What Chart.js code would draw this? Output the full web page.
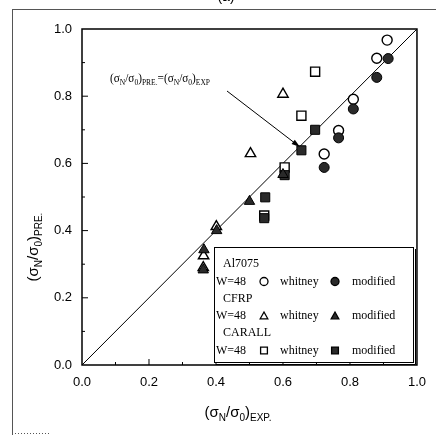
<!DOCTYPE html>
<html>
<head>
<meta charset="utf-8">
<script src="https://cdn.jsdelivr.net/npm/chart.js@4.4.1/dist/chart.umd.min.js"></script>
<style>
  html, body { margin: 0; padding: 0; background: #fff; }
  #wrap { width: 436px; height: 435px; position: relative; }
</style>
</head>
<body>
<div id="wrap"><canvas id="chart"></canvas></div>
<script>
// values: (sigma_N/sigma_0) EXP. vs PRE.
const alWhitneyX = [0.911, 0.880, 0.810, 0.766, 0.723];
const alWhitneyY = [0.967, 0.913, 0.791, 0.698, 0.628];
const alModifiedX = [0.914, 0.880, 0.810, 0.766, 0.723];
const alModifiedY = [0.912, 0.856, 0.762, 0.676, 0.588];

const cfrpWhitneyX = [0.600, 0.503, 0.401, 0.363, 0.362];
const cfrpWhitneyY = [0.806, 0.629, 0.412, 0.325, 0.290];
const cfrpModifiedX = [0.600, 0.500, 0.402, 0.364, 0.362];
const cfrpModifiedY = [0.567, 0.487, 0.400, 0.343, 0.283];

const carallWhitneyX = [0.696, 0.655, 0.605, 0.544];
const carallWhitneyY = [0.873, 0.742, 0.588, 0.445];
const carallModifiedX = [0.696, 0.655, 0.605, 0.547, 0.544];
const carallModifiedY = [0.700, 0.639, 0.565, 0.499, 0.437];

const lineX = [0, 1];
const lineY = [0, 1];

const tickLabels = ["0.0", "0.2", "0.4", "0.6", "0.8", "1.0"];

const legendRows = [
  { group: "Al7075", style: "circle" },
  { group: "CFRP", style: "triangle" },
  { group: "CARALL", style: "rect" },
];

function pts(xs, ys) {
  return xs.map((x, i) => ({ x: x, y: ys[i] }));
}

const FILL = "#2a2a2a";
const SANS = "'Liberation Sans', Arial, sans-serif";
const SERIF = "'Liberation Serif', 'Times New Roman', serif";

function openSet(xs, ys, style, r) {
  return {
    data: pts(xs, ys), pointStyle: style, pointRadius: r,
    backgroundColor: "#fff", borderColor: "#000", pointBorderWidth: 1.4,
    showLine: false, order: 2,
  };
}
function filledSet(xs, ys, style, r) {
  return {
    data: pts(xs, ys), pointStyle: style, pointRadius: r,
    backgroundColor: FILL, borderColor: "#000", pointBorderWidth: 1,
    showLine: false, order: 1,
  };
}

// text with subscripts, parts = [[text, isSub], ...]
function richWidth(ctx, parts, size, sub, family) {
  let w = 0;
  parts.forEach(p => {
    ctx.font = (p[1] ? sub : size) + "px " + family;
    w += ctx.measureText(p[0]).width;
  });
  return w;
}
function drawRich(ctx, parts, x, y, size, sub, family, drop) {
  let cx = x;
  parts.forEach(p => {
    ctx.font = (p[1] ? sub : size) + "px " + family;
    ctx.fillText(p[0], cx, p[1] ? y + drop : y);
    cx += ctx.measureText(p[0]).width;
  });
}

function marker(ctx, style, x, y, r, filled) {
  ctx.save();
  ctx.beginPath();
  if (style === "circle") {
    ctx.arc(x, y, r, 0, Math.PI * 2);
  } else if (style === "triangle") {
    ctx.moveTo(x, y - r);
    ctx.lineTo(x + r * 0.95, y + r * 0.7);
    ctx.lineTo(x - r * 0.95, y + r * 0.7);
    ctx.closePath();
  } else {
    ctx.rect(x - r * 0.85, y - r * 0.85, r * 1.7, r * 1.7);
  }
  ctx.fillStyle = filled ? FILL : "#fff";
  ctx.fill();
  ctx.lineWidth = 1.3;
  ctx.strokeStyle = "#000";
  ctx.stroke();
  ctx.restore();
}

const decorations = {
  id: "decorations",
  afterDraw(chart) {
    const ctx = chart.ctx;
    const a = chart.chartArea;
    const xs = chart.scales.x, ys = chart.scales.y;
    ctx.save();

    // scan edges
    ctx.strokeStyle = "#555";
    ctx.lineWidth = 1;
    ctx.beginPath();
    ctx.moveTo(12, 9.5); ctx.lineTo(436, 9.5);
    ctx.moveTo(12.5, 9); ctx.lineTo(12.5, 435);
    ctx.stroke();
    ctx.setLineDash([1, 2]);
    ctx.beginPath();
    ctx.moveTo(12, 433.5); ctx.lineTo(50, 433.5);
    ctx.stroke();
    ctx.setLineDash([]);
    ctx.fillStyle = "#000";
    ctx.font = "14px " + SANS;
    ctx.textAlign = "center";
    ctx.textBaseline = "alphabetic";
    ctx.fillText("(a)", 226, 1);

    // frame
    ctx.strokeStyle = "#000";
    ctx.lineWidth = 1.5;
    ctx.strokeRect(a.left, a.top, a.right - a.left, a.bottom - a.top);

    // inward ticks
    ctx.lineWidth = 1;
    ctx.beginPath();
    for (let i = 1; i < 10; i++) {
      const v = i / 10;
      const len = i % 2 === 0 ? 6 : 3;
      const px = xs.getPixelForValue(v);
      ctx.moveTo(px, a.bottom); ctx.lineTo(px, a.bottom - len);
      const py = ys.getPixelForValue(v);
      ctx.moveTo(a.left, py); ctx.lineTo(a.left + len, py);
    }
    ctx.stroke();

    // axis titles
    ctx.fillStyle = "#000";
    ctx.textAlign = "left";
    ctx.textBaseline = "alphabetic";
    const xt = [["(σ", 0], ["N", 1], ["/σ", 0], ["0", 1], [")", 0], ["EXP.", 1]];
    let w = richWidth(ctx, xt, 15, 10, SANS);
    drawRich(ctx, xt, 238 - w / 2, 417, 15, 10, SANS, 4);

    const yt = [["(σ", 0], ["N", 1], ["/σ", 0], ["0", 1], [")", 0], ["PRE.", 1]];
    ctx.save();
    ctx.translate(38, 247);
    ctx.rotate(-Math.PI / 2);
    w = richWidth(ctx, yt, 15, 10, SANS);
    drawRich(ctx, yt, -w / 2, 0, 15, 10, SANS, 4);
    ctx.restore();

    // annotation, the scanned text is wide, so stretch it a bit
    const an = [["(σ", 0], ["N", 1], ["/σ", 0], ["0", 1], [")", 0], ["PRE.", 1],
                ["=(σ", 0], ["N", 1], ["/σ", 0], ["0", 1], [")", 0], ["EXP", 1]];
    ctx.save();
    ctx.translate(110, 82);
    w = richWidth(ctx, an, 12, 8, SERIF);
    ctx.scale(100 / w, 1);
    drawRich(ctx, an, 0, 0, 12, 8, SERIF, 3);
    ctx.restore();

    const x0 = 227, y0 = 91, x1 = 300, y1 = 147;
    ctx.lineWidth = 1;
    ctx.beginPath();
    ctx.moveTo(x0, y0); ctx.lineTo(x1 - 4, y1 - 3);
    ctx.stroke();
    const ang = Math.atan2(y1 - y0, x1 - x0);
    ctx.beginPath();
    ctx.moveTo(x1, y1);
    ctx.lineTo(x1 - 9 * Math.cos(ang - 0.3), y1 - 9 * Math.sin(ang - 0.3));
    ctx.lineTo(x1 - 9 * Math.cos(ang + 0.3), y1 - 9 * Math.sin(ang + 0.3));
    ctx.closePath();
    ctx.fill();

    // legend box
    const bx = 214, by = 247, bw = 199, bh = 115;
    ctx.fillStyle = "#fff";
    ctx.fillRect(bx, by, bw, bh);
    ctx.strokeStyle = "#000";
    ctx.lineWidth = 1;
    ctx.strokeRect(bx + 0.5, by + 0.5, bw, bh);
    ctx.beginPath();
    ctx.moveTo(bx + bw + 2.5, by + 2); ctx.lineTo(bx + bw + 2.5, by + bh + 2.5);
    ctx.lineTo(bx + 2, by + bh + 2.5);
    ctx.stroke();

    ctx.textBaseline = "middle";
    legendRows.forEach((row, i) => {
      const yg = 264 + i * 34.5;
      const yr = yg + 17.5;
      ctx.fillStyle = "#000";
      ctx.font = "12px " + SERIF;
      ctx.fillText(row.group, 223, yg);
      ctx.fillText("W=48", 216, yr);
      ctx.fillText("whitney", 280, yr);
      ctx.fillText("modified", 352, yr);
      marker(ctx, row.style, 264, yr, 4, false);
      marker(ctx, row.style, 335, yr, 4, true);
    });

    ctx.restore();
  }
};

new Chart(document.getElementById("chart").getContext("2d"), {
  type: "scatter",
  data: {
    datasets: [
      {
        type: "line", data: pts(lineX, lineY), borderColor: "#000", borderWidth: 1,
        pointRadius: 0, fill: false, order: 5,
      },
      openSet(alWhitneyX, alWhitneyY, "circle", 5),
      openSet(cfrpWhitneyX, cfrpWhitneyY, "triangle", 6),
      openSet(carallWhitneyX, carallWhitneyY, "rect", 6.4),
      filledSet(alModifiedX, alModifiedY, "circle", 5),
      filledSet(cfrpModifiedX, cfrpModifiedY, "triangle", 6),
      filledSet(carallModifiedX, carallModifiedY, "rect", 6.4),
    ],
  },
  options: {
    responsive: true,
    maintainAspectRatio: false,
    animation: false,
    layout: { padding: { top: 29, right: 18, bottom: 0, left: 0 } },
    plugins: { legend: { display: false }, tooltip: { enabled: false } },
    scales: {
      x: {
        type: "linear", min: 0, max: 1,
        afterFit: (s) => { s.height = 70; },
        afterBuildTicks: (s) => { s.ticks = tickLabels.map(t => ({ value: parseFloat(t) })); },
        grid: { display: false, drawTicks: false },
        border: { display: false },
        ticks: {
          padding: 10, color: "#000", font: { family: SANS, size: 13 },
          callback: (v) => tickLabels[Math.round(v * 5)],
        },
      },
      y: {
        type: "linear", min: 0, max: 1,
        afterFit: (s) => { s.width = 82; },
        afterBuildTicks: (s) => { s.ticks = tickLabels.map(t => ({ value: parseFloat(t) })); },
        grid: { display: false, drawTicks: false },
        border: { display: false },
        ticks: {
          padding: 10, color: "#000", font: { family: SANS, size: 13 },
          callback: (v) => tickLabels[Math.round(v * 5)],
        },
      },
    },
  },
  plugins: [decorations],
});
</script>
</body>
</html>
